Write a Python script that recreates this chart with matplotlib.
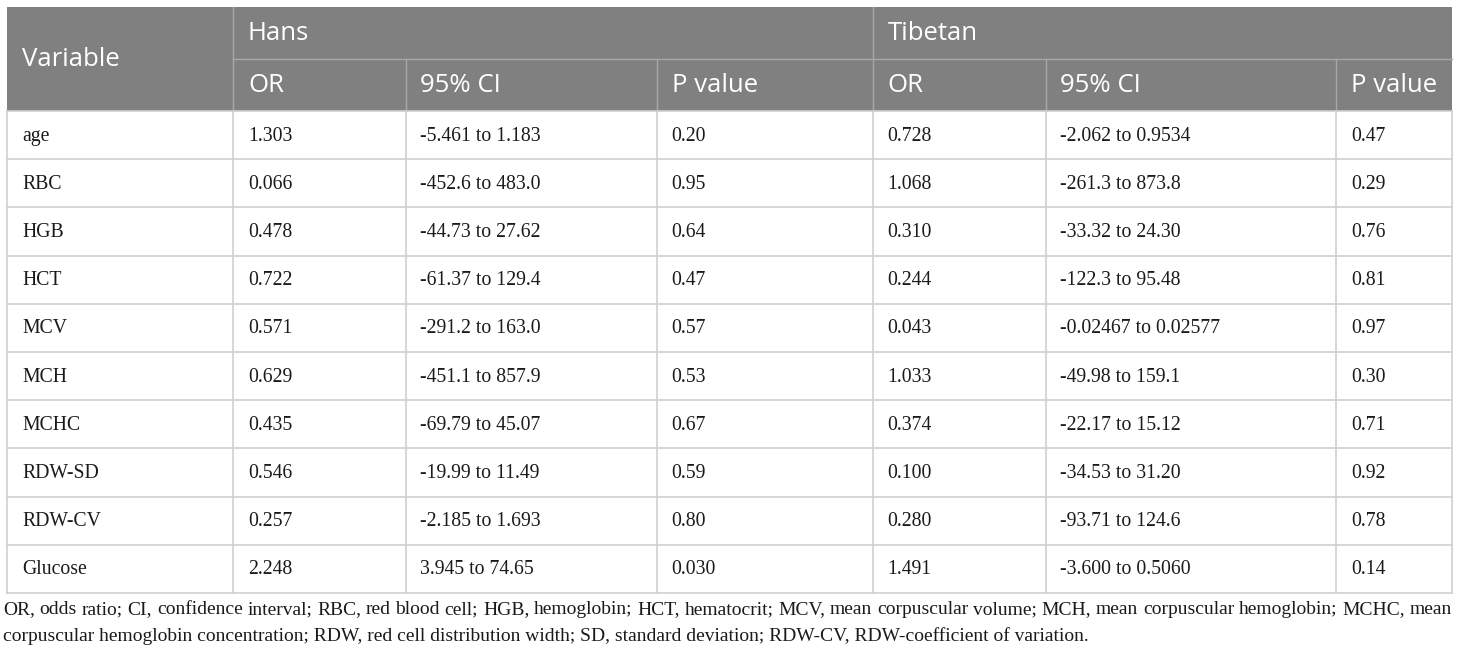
import matplotlib
matplotlib.use("Agg")
import matplotlib.pyplot as plt
from matplotlib.patches import Rectangle

variables = ["age", "RBC", "HGB", "HCT", "MCV", "MCH", "MCHC", "RDW-SD", "RDW-CV", "Glucose"]
hans_or = ["1.303", "0.066", "0.478", "0.722", "0.571", "0.629", "0.435", "0.546", "0.257", "2.248"]
hans_ci = ["-5.461 to 1.183", "-452.6 to 483.0", "-44.73 to 27.62", "-61.37 to 129.4",
           "-291.2 to 163.0", "-451.1 to 857.9", "-69.79 to 45.07", "-19.99 to 11.49",
           "-2.185 to 1.693", "3.945 to 74.65"]
hans_p = ["0.20", "0.95", "0.64", "0.47", "0.57", "0.53", "0.67", "0.59", "0.80", "0.030"]
tib_or = ["0.728", "1.068", "0.310", "0.244", "0.043", "1.033", "0.374", "0.100", "0.280", "1.491"]
tib_ci = ["-2.062 to 0.9534", "-261.3 to 873.8", "-33.32 to 24.30", "-122.3 to 95.48",
          "-0.02467 to 0.02577", "-49.98 to 159.1", "-22.17 to 15.12", "-34.53 to 31.20",
          "-93.71 to 124.6", "-3.600 to 0.5060"]
tib_p = ["0.47", "0.29", "0.76", "0.81", "0.97", "0.30", "0.71", "0.92", "0.78", "0.14"]

groups = ["Hans", "Tibetan"]
sub_headers = ["OR", "95% CI", "P value"]

footnote_1 = ("OR, odds ratio; CI, confidence interval; RBC, red blood cell; HGB, hemoglobin; "
              "HCT, hematocrit; MCV, mean corpuscular volume; MCH, mean corpuscular hemoglobin; "
              "MCHC, mean")
footnote_2 = ("corpuscular hemoglobin concentration; RDW, red cell distribution width; "
              "SD, standard deviation; RDW-CV, RDW-coefficient of variation.")

# layout in pixels
W, H = 1460, 656
col_x = [7, 233, 405.5, 656.5, 872.5, 1045.5, 1336, 1452]
top, mid, head_bot = 7, 59.3, 111
row_h = 48.2
pad = 15

head_bg = "#808080"
head_line = "#a8a8a8"
grid = "#cfcfcf"
txt = "#1a1a1a"
sans = "Open Sans"
serif = "Liberation Serif"
head_fs, body_fs, foot_fs = 18.5, 14.2, 14.0

fig = plt.figure(figsize=(W / 100, H / 100), dpi=100)
ax = fig.add_axes([0, 0, 1, 1])
ax.set_xlim(0, W)
ax.set_ylim(H, 0)
ax.axis("off")

left, right = col_x[0], col_x[-1]
bottom = head_bot + row_h * len(variables)

# header block
ax.add_patch(Rectangle((left, top), right - left, head_bot - top, color=head_bg, lw=0))
ax.plot([col_x[1], right], [mid, mid], color=head_line, lw=1)
for x in (col_x[1], col_x[4]):
    ax.plot([x, x], [top, head_bot], color=head_line, lw=1)
for x in (col_x[2], col_x[3], col_x[5], col_x[6]):
    ax.plot([x, x], [mid, head_bot], color=head_line, lw=1)

ax.text(left + pad, (top + head_bot) / 2, "Variable", color="white", fontsize=head_fs,
        family=sans, va="center")
for g, gx in zip(groups, (col_x[1], col_x[4])):
    ax.text(gx + pad, (top + mid) / 2, g, color="white", fontsize=head_fs, family=sans,
            va="center")
for k in range(6):
    ax.text(col_x[k + 1] + pad, (mid + head_bot) / 2, sub_headers[k % 3], color="white",
            fontsize=head_fs, family=sans, va="center")

# body grid
for i in range(len(variables) + 1):
    y = head_bot + i * row_h
    ax.plot([left, right], [y, y], color=grid, lw=1.2)
for x in col_x:
    ax.plot([x, x], [head_bot, bottom], color=grid, lw=1.2)

columns = [variables, hans_or, hans_ci, hans_p, tib_or, tib_ci, tib_p]
for c, values in enumerate(columns):
    for i, v in enumerate(values):
        ax.text(col_x[c] + pad, head_bot + (i + 0.5) * row_h + 1, v, color=txt,
                fontsize=body_fs, family=serif, va="center")

# footnote, first line justified to the table width
fig.canvas.draw()
renderer = fig.canvas.get_renderer()
words = footnote_1.split(" ")
fx0, fx1 = 3, right
widths = []
for w in words:
    t = ax.text(0, 0, w, fontsize=foot_fs, family=serif)
    widths.append(t.get_window_extent(renderer).width)
    t.remove()
gap = (fx1 - fx0 - sum(widths)) / (len(words) - 1)
x = fx0
for w, wd in zip(words, widths):
    ax.text(x, 610, w, fontsize=foot_fs, family=serif, color=txt, va="center")
    x += wd + gap
ax.text(fx0, 636, footnote_2, fontsize=foot_fs, family=serif, color=txt, va="center")

fig.savefig("out.png", dpi=100, facecolor="white")
